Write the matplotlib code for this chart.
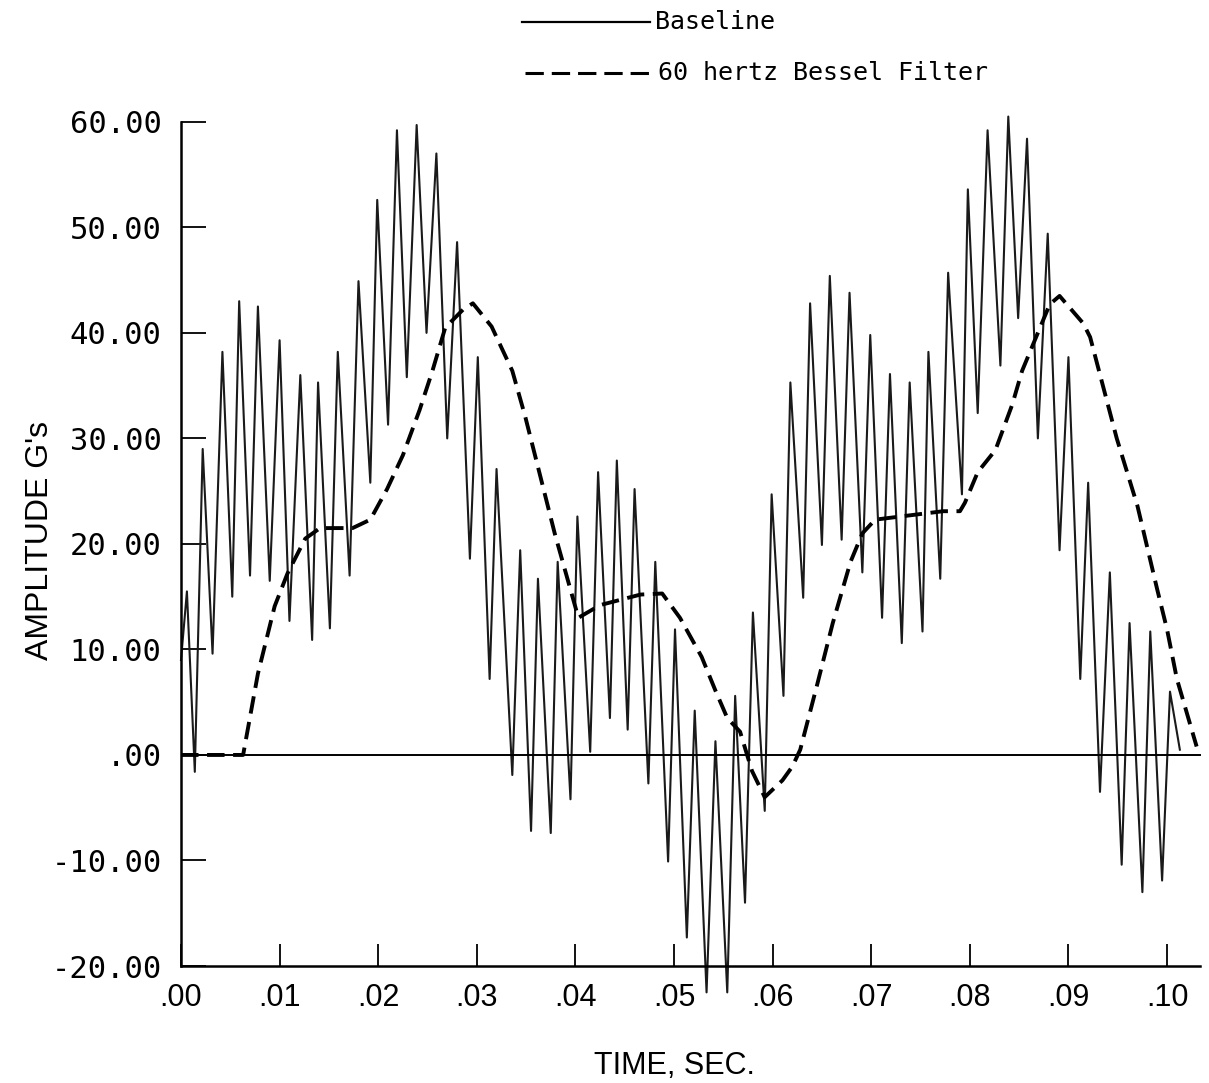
import matplotlib.pyplot as plt
from matplotlib.lines import Line2D

# unfiltered trace: turning points (time s, amplitude G)
time_base = [0.0000, 0.0006, 0.0014, 0.0022, 0.0032, 0.0042, 0.0052, 0.0059, 0.0070, 0.0078,
             0.0090, 0.0100, 0.0110, 0.0121, 0.0133, 0.0139, 0.0151, 0.0159, 0.0171, 0.0180,
             0.0192, 0.0199, 0.0210, 0.0219, 0.0229, 0.0239, 0.0249, 0.0259, 0.0270, 0.0280,
             0.0293, 0.0301, 0.0313, 0.0320, 0.0336, 0.0344, 0.0355, 0.0362, 0.0375, 0.0382,
             0.0395, 0.0402, 0.0415, 0.0423, 0.0435, 0.0442, 0.0453, 0.0460, 0.0474, 0.0481,
             0.0494, 0.0501, 0.0513, 0.0521, 0.0533, 0.0542, 0.0554, 0.0562, 0.0572, 0.0580,
             0.0592, 0.0599, 0.0611, 0.0618, 0.0631, 0.0638, 0.0650, 0.0658, 0.0670, 0.0678,
             0.0691, 0.0699, 0.0711, 0.0719, 0.0731, 0.0739, 0.0752, 0.0758, 0.0770, 0.0778,
             0.0792, 0.0798, 0.0808, 0.0818, 0.0831, 0.0839, 0.0849, 0.0858, 0.0869, 0.0879,
             0.0891, 0.0900, 0.0912, 0.0920, 0.0932, 0.0942, 0.0954, 0.0962, 0.0975, 0.0983,
             0.0995, 0.1003, 0.1013]
amp_base = [9.0, 15.5, -1.6, 29.0, 9.6, 38.2, 15.0, 43.0, 17.0, 42.5,
            16.5, 39.3, 12.7, 36.0, 10.9, 35.3, 12.0, 38.2, 17.0, 44.9,
            25.8, 52.6, 31.3, 59.2, 35.8, 59.7, 40.0, 57.0, 30.0, 48.6,
            18.6, 37.7, 7.2, 27.1, -1.9, 19.4, -7.2, 16.7, -7.4, 18.3,
            -4.2, 22.6, 0.3, 26.8, 3.5, 27.9, 2.4, 25.2, -2.7, 18.3,
            -10.1, 11.9, -17.3, 4.2, -22.5, 1.3, -22.5, 5.6, -14.0, 13.5,
            -5.3, 24.7, 5.6, 35.3, 14.9, 42.8, 19.9, 45.4, 20.4, 43.8,
            17.3, 39.8, 13.0, 36.1, 10.6, 35.3, 11.7, 38.2, 16.7, 45.7,
            24.7, 53.6, 32.4, 59.2, 36.9, 60.5, 41.4, 58.4, 30.0, 49.4,
            19.4, 37.7, 7.2, 25.8, -3.5, 17.3, -10.4, 12.5, -13.0, 11.7,
            -11.9, 6.0, 0.5]

# 60 Hz Bessel filtered trace
time_filt = [0.0000, 0.0063, 0.0078, 0.0095, 0.0108, 0.0126, 0.0141, 0.0174, 0.0192, 0.0209,
             0.0225, 0.0242, 0.0255, 0.0268, 0.0286, 0.0296, 0.0315, 0.0336, 0.0349, 0.0362,
             0.0379, 0.0391, 0.0403, 0.0425, 0.0466, 0.0488, 0.0506, 0.0528, 0.0542, 0.0554,
             0.0567, 0.0579, 0.0592, 0.0610, 0.0620, 0.0628, 0.0645, 0.0661, 0.0679, 0.0691,
             0.0704, 0.0773, 0.0790, 0.0795, 0.0808, 0.0826, 0.0843, 0.0853, 0.0881, 0.0891,
             0.0915, 0.0922, 0.0949, 0.0970, 0.0990, 0.1000, 0.1010, 0.1030]
amp_filt = [0.0, 0.0, 7.7, 14.1, 17.2, 20.5, 21.5, 21.5, 22.3, 25.2,
            28.4, 32.7, 36.4, 40.5, 42.2, 42.8, 40.6, 36.4, 32.1, 27.3,
            21.0, 17.0, 13.0, 14.2, 15.2, 15.3, 13.0, 9.3, 6.1, 3.5,
            2.2, -1.5, -4.0, -2.4, -1.1, 0.5, 6.6, 12.5, 18.3, 21.0,
            22.3, 23.1, 23.1, 23.9, 26.8, 28.9, 33.2, 36.4, 42.7, 43.5,
            40.9, 39.6, 30.0, 23.6, 15.7, 11.9, 7.2, 0.8]

y_ticks = [-20, -10, 0, 10, 20, 30, 40, 50, 60]
y_labels = ['-20.00', '-10.00', '.00', '10.00', '20.00', '30.00', '40.00', '50.00', '60.00']
x_ticks = [0.00, 0.01, 0.02, 0.03, 0.04, 0.05, 0.06, 0.07, 0.08, 0.09, 0.10]
x_labels = ['.00', '.01', '.02', '.03', '.04', '.05', '.06', '.07', '.08', '.09', '.10']

narrow = ['Liberation Sans']
mono = ['DejaVu Sans Mono']

W, H = 1209, 1083
fig = plt.figure(figsize=(W / 100, H / 100), dpi=100)
ax = fig.add_axes([181 / W, 1 - 966 / H, 1024 / W, 860 / H])
ax.set_xlim(0, 0.10385)
ax.set_ylim(-20, 61.5)

ax.plot(time_base, amp_base, color='#1a1a1a', lw=1.5, clip_on=False)
ax.plot(time_filt, amp_filt, color='black', lw=2.8, ls=(0, (4.5, 2.2)))
ax.axhline(0, xmin=0, xmax=0.1033 / 0.10385, color='black', lw=1.4)

for s in ['top', 'right']:
    ax.spines[s].set_visible(False)
ax.spines['left'].set_bounds(-20, 60)
ax.spines['bottom'].set_bounds(0, 0.1033)
ax.spines['left'].set_linewidth(1.8)
ax.spines['bottom'].set_linewidth(1.8)

ax.set_yticks(y_ticks, y_labels, family=mono, fontsize=22)
ax.set_xticks(x_ticks, x_labels, family=narrow, fontsize=22)
ax.tick_params(axis='y', direction='in', length=18, width=1.3, pad=14)
ax.tick_params(axis='x', direction='in', length=16, width=1.3, pad=12)

# axis titles placed where the original has them
fig.text(40 / W, 1 - 540 / H, "AMPLITUDE G's", family=narrow, fontsize=23,
         rotation=90, ha='center', va='center')
fig.text(674 / W, 1 - 1066 / H, 'TIME, SEC.', family=narrow, fontsize=22,
         ha='center', va='center')

# legend drawn above the axes like the original
fig.add_artist(Line2D([522 / W, 650 / W], [1 - 22 / H] * 2, color='black', lw=1.6))
fig.text(655 / W, 1 - 22 / H, 'Baseline', family=mono, fontsize=18, va='center')
fig.add_artist(Line2D([525 / W, 650 / W], [1 - 73 / H] * 2, color='black', lw=2.2,
                      ls=(0, (6, 2.6))))
fig.text(658 / W, 1 - 73 / H, '60 hertz Bessel Filter', family=mono, fontsize=18, va='center')

fig.savefig('out.png', dpi=100)
